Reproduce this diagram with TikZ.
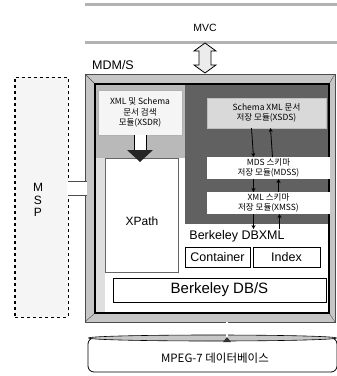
\documentclass[tikz,border=0pt]{standalone}
\usepackage{fontspec}
\setmainfont{Liberation Sans}
\newfontfamily\kr{Noto Sans CJK KR}
\usetikzlibrary{arrows.meta}
\begin{document}
\begin{tikzpicture}[x=1pt,y=-1pt,
  blk/.style={inner sep=0pt, outer sep=0pt},
  modtext/.style={font=\kr\fontsize{8.5}{10.5}\selectfont, align=center},
  wbox/.style={blk, draw=black, line width=0.9pt, fill=white},
  small/.style={-{Stealth[length=4pt,width=4pt]}, line width=0.8pt, black}]
\useasboundingbox (0,0) rectangle (337,376);
% MVC band
\node[blk, minimum width=252, minimum height=38] (mvc) at (211,23) {};
\draw[gray!60, line width=3pt] (mvc.north west) -- (mvc.north east);
\draw[gray!60, line width=3pt] (mvc.south west) -- (mvc.south east);
\node[font=\fontsize{10.5}{12}\selectfont] (mvct) at (205,28) {MVC};
% MDM/S label
\node[font=\fontsize{12.5}{14}\selectfont] (mdmst) at (113,65) {MDM/S};
% MDM/S frame
\node[blk, draw=black!70, fill=gray!45, minimum width=250, minimum height=248] (mdms) at (210,198) {};
\draw[black!70] (mdms.north west) -- (95,84);
\draw[black!70] (mdms.south west) -- (95,313);
\draw[black!70] (mdms.north east) -- (329,84);
\draw[black!70] (mdms.south east) -- (329,313);
\node[blk, draw=black, line width=1.4pt, fill=white, minimum width=234, minimum height=229] (inner) at (212,198.5) {};
\fill[gray!55] (95.7,84.7) rectangle (328.3,158);
\fill[gray!25] (95.7,158) rectangle (105,312.3);
\fill[black!62] (185,84.7) rectangle (328.3,224);
% double arrow MVC <-> MDM/S
\draw[fill=gray!15, line width=0.8pt] (205,43) -- (216,51) -- (211,51) -- (211,65) -- (216,65) -- (205,73) -- (194,65) -- (199,65) -- (199,51) -- (194,51) -- cycle;
% XSDR
\node[blk, draw=gray!60, fill=gray!8, minimum width=84, minimum height=45, modtext] (xsdr) at (140,112.5) {XML 및 Schema\\문서 검색\\모듈(XSDR)};
% XPath
\node[blk, draw=black!60, line width=0.5pt, fill=white, minimum width=73, minimum height=114] (xpath) at (141.5,215) {};
\node[font=\fontsize{12}{14}\selectfont] (xpatht) at (142,221) {XPath};
% arrow XSDR -> XPath
\draw[fill=white, line width=0.6pt] ([xshift=-6pt]xsdr.south) -- ([xshift=-6pt,yshift=-16pt]xsdr.south) -- ([xshift=6pt,yshift=-16pt]xsdr.south) -- ([xshift=6pt]xsdr.south);
\fill[black!85] ([xshift=-13pt,yshift=-15pt]xsdr.south) -- ([xshift=13pt,yshift=-15pt]xsdr.south) -- ([yshift=-27pt]xsdr.south) -- cycle;
% right modules
\node[blk, draw=gray!50, fill=gray!30, minimum width=119, minimum height=30, modtext] (xsds) at (266.5,113) {Schema XML 문서\\저장 모듈(XSDS)};
\node[blk, fill=white, minimum width=123, minimum height=22, modtext] (mdss) at (268.5,168) {MDS 스키마\\저장 모듈(MDSS)};
\node[blk, fill=white, minimum width=123, minimum height=22, modtext] (xmss) at (268.5,203) {XML 스키마\\저장 모듈(XMSS)};
% Berkeley DBXML
\node[font=\fontsize{12.5}{14}\selectfont] (dbxml) at (237,236) {Berkeley DBXML};
\node[wbox, minimum width=65, minimum height=20, font=\fontsize{12.5}{14}\selectfont] (cont) at (217.5,257) {Container};
\node[wbox, minimum width=67, minimum height=20, font=\fontsize{12.5}{14}\selectfont] (idx) at (286.5,257) {Index};
\node[wbox, minimum width=213, minimum height=24, font=\fontsize{15}{17}\selectfont] (dbs) at (219.5,290) {Berkeley DB/S};
% small arrows
\draw[small] ([xshift=-15pt]xsds.south) -- ([xshift=-15pt]mdss.north);
\draw[small] ([xshift=4pt]mdss.north) -- ([xshift=4pt]xsds.south);
\draw[small] ([xshift=-15pt]mdss.south) -- ([xshift=-15pt]xmss.north);
\draw[small] ([xshift=10pt]xmss.north) -- ([xshift=10pt]mdss.south);
\draw[small] ([xshift=-15pt]xmss.south) -- ([xshift=-15pt,yshift=-15pt]xmss.south);
\draw[small] ([xshift=11pt,yshift=-15pt]xmss.south) -- ([xshift=11pt]xmss.south);
% MSP
\node[blk, draw=black, dashed, line width=1pt, fill=gray!8, minimum width=53, minimum height=240] (msp) at (41.5,197) {};
\node[align=center, font=\fontsize{12}{12.5}\selectfont] (mspt) at (38,200) {M\\S\\P};
\fill[white] ([xshift=-1.5pt,yshift=16pt]msp.east) rectangle ([xshift=2pt,yshift=2pt]mdms.west);
\draw[black!70, line width=0.8pt] ([yshift=16pt]msp.east) -- ([xshift=2pt,yshift=16pt]mdms.west |- msp.east);
\draw[black!70, line width=0.8pt] ([yshift=2pt]msp.east) -- ([xshift=2pt,yshift=2pt]mdms.west |- msp.east);
% MPEG-7 database
\node[blk, minimum width=249, minimum height=34] (db) at (212.5,355) {};
\draw[line width=0.8pt, fill=white, rounded corners=6pt] (db.north west) rectangle (db.south east);
\draw[fill=gray!45, line width=0.6pt] (db.north) ellipse (124pt and 3pt);
\node[font=\kr\fontsize{11.5}{13}\selectfont] (dbt) at (215,358) {MPEG-7 데이터베이스};
% connector MDM/S -> DB
\draw[double=white, double distance=1.5pt, line width=0.6pt] ([xshift=17pt]mdms.south) -- ([xshift=14.5pt,yshift=-1pt]db.north);
\fill[black!80] ([xshift=10.5pt,yshift=-4pt]db.north) -- ([xshift=18.5pt,yshift=-4pt]db.north) -- ([xshift=14.5pt,yshift=1pt]db.north) -- cycle;
\end{tikzpicture}
\end{document}
